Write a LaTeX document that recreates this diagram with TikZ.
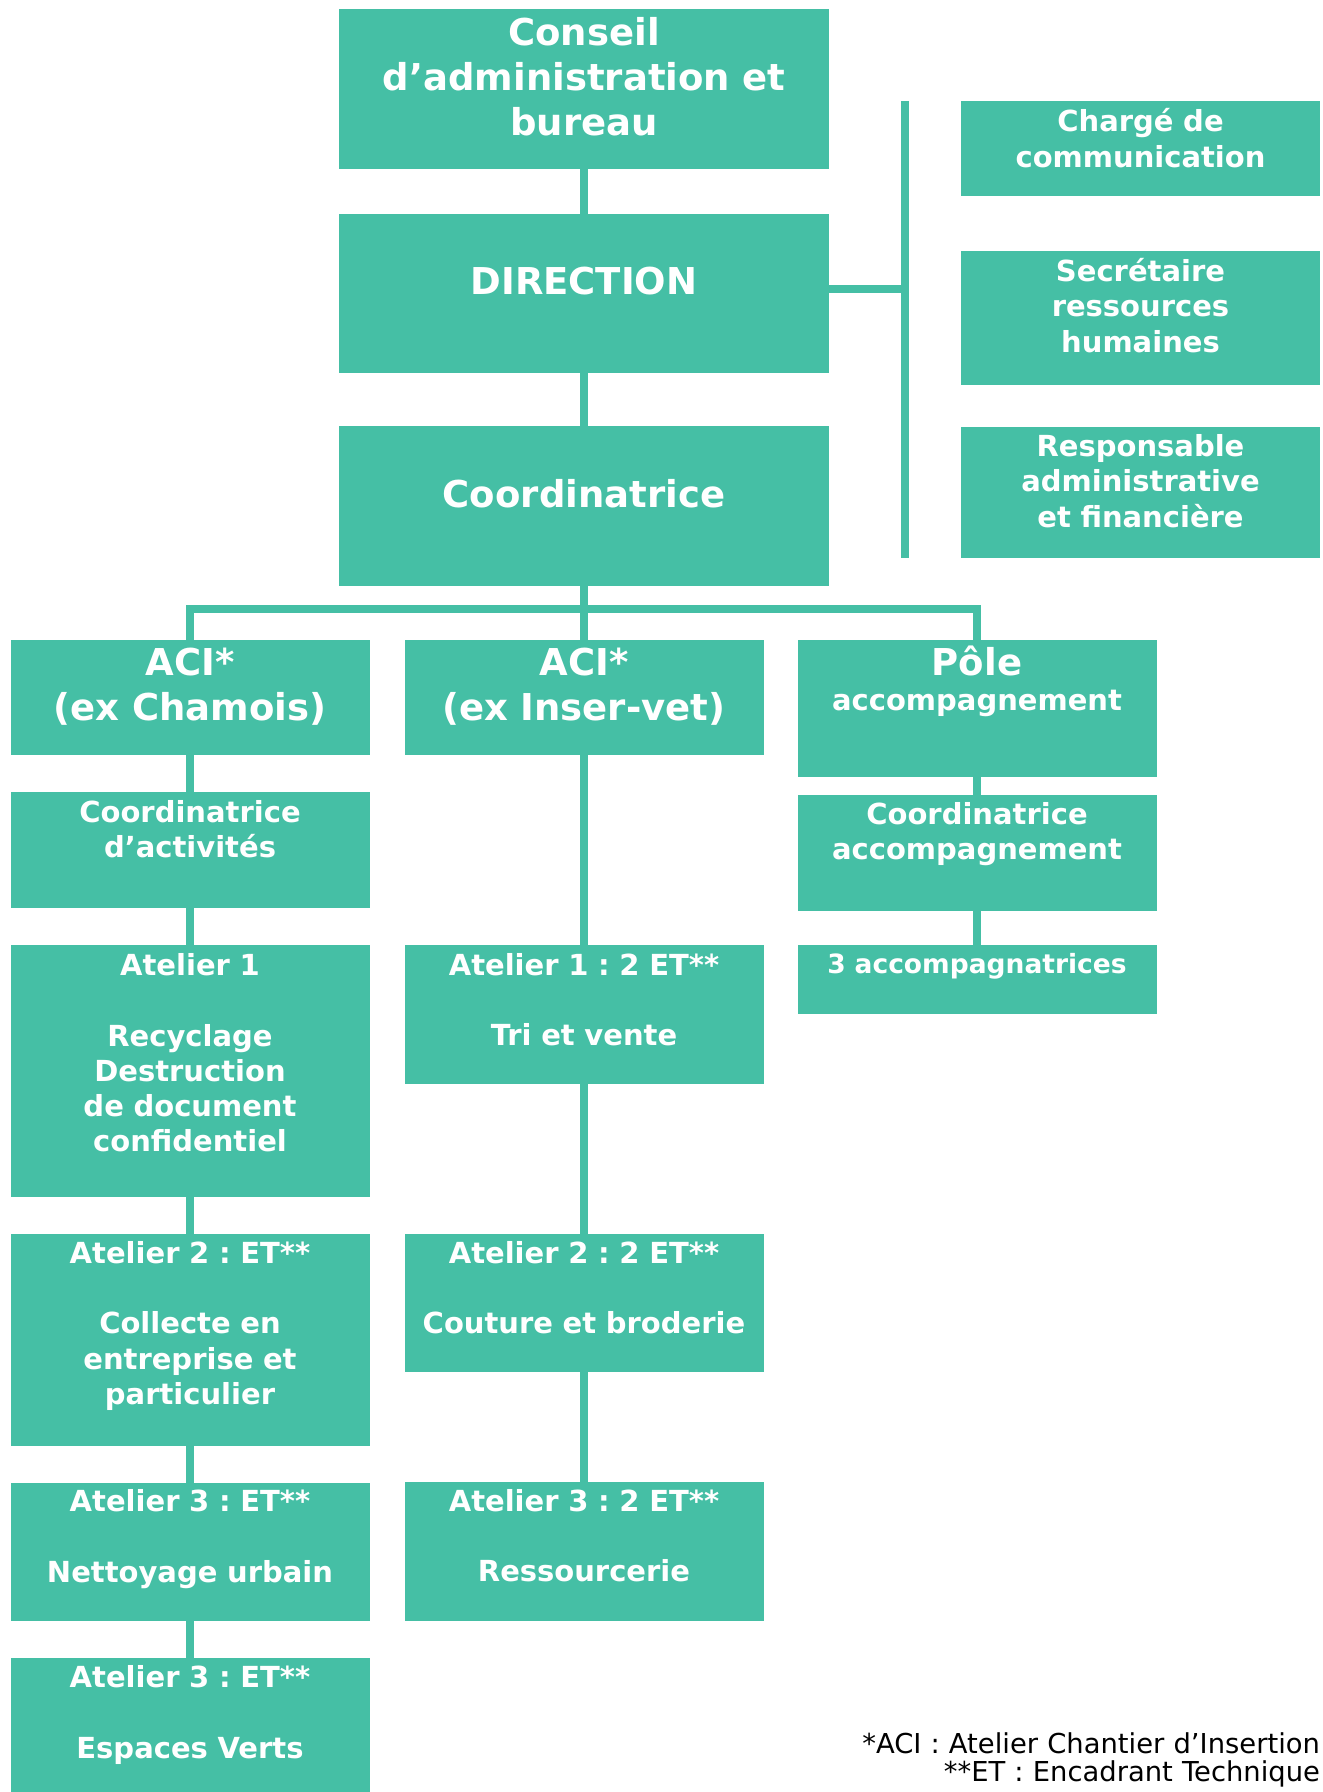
\documentclass[tikz,border=0pt]{standalone}
\usepackage{fontspec}
\setmainfont{DejaVu Sans}
\usetikzlibrary{positioning,calc}
\definecolor{orgteal}{RGB}{69,191,165}
\newcommand{\bigtxt}{\fontsize{18.5pt}{22.5pt}\selectfont}
\newcommand{\smalltxt}{\fontsize{14.5pt}{17.6pt}\selectfont}
\frenchspacing

\begin{document}
\begin{tikzpicture}[link/.style={draw=orgteal, line width=4pt}, every node/.style={inner sep=0pt, outer sep=0pt}]
% Define styles for boxes and footnote
\tikzstyle{unit} = [fill=orgteal, text=white, font=\bfseries\smalltxt, align=center, text width=179.5pt]
\tikzstyle{head} = [unit, font=\bfseries\bigtxt]
\tikzstyle{wide} = [head, text width=245pt]
\tikzstyle{note} = [font=\fontsize{13.7pt}{14.2pt}\selectfont, align=right, text width=240pt, anchor=base east]

\useasboundingbox (0,0) rectangle (661pt,-896pt);

% Top column
\node [wide, anchor=north, text height=18.25pt, text depth=61.5pt] (conseil) at (292pt,-4.75pt) {Conseil\\d’administration et\\bureau};
\node [wide, below=22.35pt of conseil, text height=40.5pt, text depth=39.15pt] (direction) {DIRECTION};
\node [wide, below=26.7pt of direction, text height=40.3pt, text depth=39.35pt] (coord) {Coordinatrice};

% Side boxes
\node [unit, below right=45.75pt and 66pt of conseil.north east, text height=15.5pt, text depth=31.85pt] (charge) {Chargé de\\communication};
\node [unit, below=27.8pt of charge, text height=15.2pt, text depth=51.65pt] (secr) {Secrétaire\\ressources\\humaines};
\node [unit, below=21pt of secr, text height=14.85pt, text depth=50.8pt] (resp) {Responsable\\administrative\\et financière};

% Second level
\node [head, below=27pt of coord, text height=18pt, text depth=39.85pt] (acimid) {ACI*\\(ex Inser-vet)};
\node [head, left=17.5pt of acimid, text height=18pt, text depth=39.85pt] (acileft) {ACI*\\(ex Chamois)};
\node [unit, right=17pt of acimid.north east, anchor=north west, text height=18pt, text depth=50.5pt] (pole) {{\bigtxt Pôle}\\accompagnement};

% Left column
\node [unit, below=18.3pt of acileft, text height=15pt, text depth=43pt] (coordact) {Coordinatrice\\d’activités};
\node [unit, below=18.7pt of coordact, text height=15.15pt, text depth=110.4pt] (at1l) {Atelier 1\\~\\Recyclage\\Destruction\\de document\\confidentiel};
\node [unit, below=18.65pt of at1l, text height=14.85pt, text depth=91.15pt] (at2l) {Atelier 2 : ET**\\~\\Collecte en\\entreprise et\\particulier};
\node [unit, below=18.35pt of at2l, text height=14.65pt, text depth=54.65pt] (at3l) {Atelier 3 : ET**\\~\\Nettoyage urbain};
\node [unit, below=18.5pt of at3l, text height=14.85pt, text depth=51.9pt] (espaces) {Atelier 3 : ET**\\~\\Espaces Verts};

% Middle column
\node [unit, below=94.85pt of acimid, text height=15.15pt, text depth=54.1pt] (at1m) {Atelier 1 : 2 ET**\\~\\Tri et vente};
\node [unit, below=75pt of at1m, text height=14.85pt, text depth=54.4pt] (at2m) {Atelier 2 : 2 ET**\\~\\Couture et broderie};
\node [unit, below=55pt of at2m, text height=14.65pt, text depth=54.65pt] (at3m) {Atelier 3 : 2 ET**\\~\\Ressourcerie};

% Right column
\node [unit, below=9.15pt of pole, text height=14.85pt, text depth=43pt] (coordacc) {Coordinatrice\\accompagnement};
\node [unit, below=17.35pt of coordacc, font=\bfseries\fontsize{13.25pt}{16pt}\selectfont, text height=13.8pt, text depth=20.5pt] (accomp) {3 accompagnatrices};

% Footnote
\node [note] (legend) at (660pt,-876.65pt) {*ACI : Atelier Chantier d’Insertion\\{}**ET : Encadrant Technique};

% Draw edges
\draw[link] (conseil) -- (direction);
\draw[link] (direction) -- (coord);
\coordinate (bartop) at ($(charge.north west)+(-28.15pt,0)$);
\coordinate (barbot) at ($(resp.south west)+(-28.15pt,0)$);
\draw[link] (bartop) -- (barbot);
\draw[link] ([yshift=2.2pt]direction.east) -- ([yshift=2.2pt]direction.east -| bartop);

% Bus to second level
\coordinate (bus) at ([yshift=-11.65pt]coord.south);
\draw[link] (coord) -- (acimid);
\draw[link] (acileft.north) |- (bus) -| (pole.north);

% Columns
\draw[link] (acileft) -- (coordact);
\draw[link] (coordact) -- (at1l);
\draw[link] (at1l) -- (at2l);
\draw[link] (at2l) -- (at3l);
\draw[link] (at3l) -- (espaces);
\draw[link] (acimid) -- (at1m);
\draw[link] (at1m) -- (at2m);
\draw[link] (at2m) -- (at3m);
\draw[link] (pole) -- (coordacc);
\draw[link] (coordacc) -- (accomp);
\end{tikzpicture}
\end{document}
